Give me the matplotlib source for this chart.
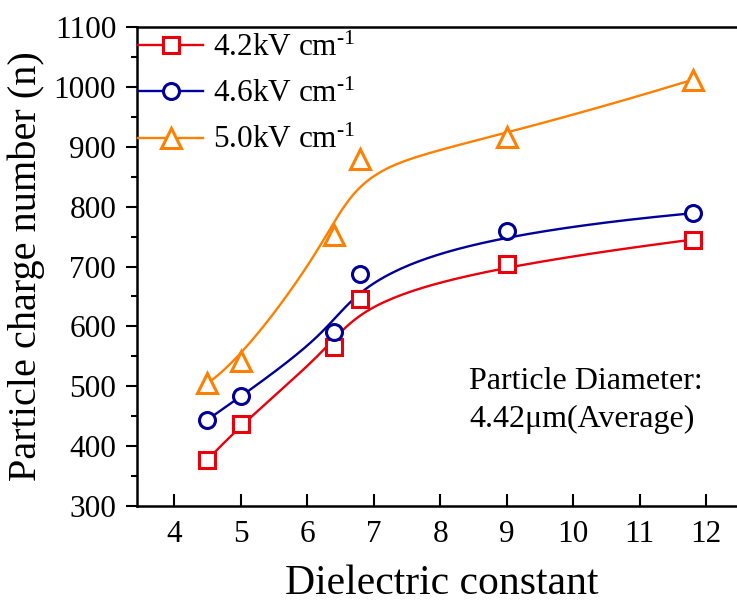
import matplotlib
matplotlib.use("Agg")
import matplotlib.pyplot as plt
import numpy as np
from matplotlib.ticker import MultipleLocator

plt.rcParams['font.family'] = ['Liberation Serif', 'DejaVu Serif']
plt.rcParams['mathtext.fontset'] = 'custom'
plt.rcParams['mathtext.rm'] = 'Liberation Serif'
plt.rcParams['mathtext.default'] = 'regular'

# data
dielectric = [4.5, 5.0, 6.4, 6.8, 9.0, 11.8]
charge_42 = [377, 437, 565, 645, 705, 745]
charge_46 = [444, 483, 590, 688, 760, 789]
charge_50 = [505, 543, 752, 880, 917, 1012]
labels = ['4.2kV cm$^{\\text{-}1}$', '4.6kV cm$^{\\text{-}1}$',
          '5.0kV cm$^{\\text{-}1}$']


def bspline(xs, ys, k=3, n=300):
    # clamped cubic B-spline with the data points as control points
    pts = np.column_stack([xs, ys]).astype(float)
    m = len(pts)
    inner = np.arange(1, m - k)
    knots = np.concatenate([np.zeros(k + 1), inner, np.full(k + 1, m - k)])
    t = np.linspace(0, m - k, n)
    t[-1] -= 1e-9

    def basis(i, p, t):
        if p == 0:
            return ((knots[i] <= t) & (t < knots[i + 1])).astype(float)
        out = np.zeros_like(t)
        d1 = knots[i + p] - knots[i]
        d2 = knots[i + p + 1] - knots[i + 1]
        if d1 > 0:
            out += (t - knots[i]) / d1 * basis(i, p - 1, t)
        if d2 > 0:
            out += (knots[i + p + 1] - t) / d2 * basis(i + 1, p - 1, t)
        return out

    B = np.array([basis(i, k, t) for i in range(m)])
    curve = B.T @ pts
    return curve[:, 0], curve[:, 1]


fig = plt.figure(figsize=(7.37, 6.05), dpi=100)
ax = fig.add_axes([137 / 737, 99 / 605, 609 / 737, 479 / 605])

series = [
    (charge_42, '#E8000B', 's', 11),
    (charge_46, '#000099', 'o', 11.5),
    (charge_50, '#FF8000', '^', 14),
]
for (vals, col, mk, ms), lab in zip(series, labels):
    sx, sy = bspline(dielectric, vals)
    ax.plot(sx, sy, color=col, lw=1.7, zorder=2)
    ax.plot(dielectric, vals, linestyle='none', marker=mk, ms=ms,
            mfc='white', mec=col, mew=2.2, zorder=3)
    ax.plot([], [], color=col, lw=1.7, marker=mk, ms=ms, mfc='white',
            mec=col, mew=2.2, label=lab)

ax.set_xlim(3.44, 12.6)
ax.set_ylim(300, 1100)
ax.xaxis.set_major_locator(MultipleLocator(1))
ax.yaxis.set_major_locator(MultipleLocator(100))
ax.yaxis.set_minor_locator(MultipleLocator(50))

ax.tick_params(axis='x', direction='in', length=9, width=1.5, pad=10,
               labelsize=22.5, top=False)
ax.tick_params(axis='y', which='major', direction='out', length=8, width=1.5,
               labelsize=22.5, pad=7, right=False)
ax.tick_params(axis='y', which='minor', direction='out', length=4, width=1.5)
for s in ax.spines.values():
    s.set_linewidth(1.8)

ax.set_xlabel('Dielectric constant', fontsize=30, labelpad=11)
ax.set_ylabel('Particle charge number (n)', fontsize=29, labelpad=6)

ax.legend(loc='upper left', bbox_to_anchor=(-0.004, 0.993), frameon=False,
          fontsize=22.5, handlelength=2.1, borderaxespad=0.0, borderpad=0.1,
          handletextpad=0.3, labelspacing=0.55)

ax.text(0.545, 0.29, 'Particle Diameter:\n4.42\u03bcm(Average)',
        transform=ax.transAxes, fontsize=23, va='top', ha='left',
        linespacing=1.38)

fig.savefig('out.png', dpi=100)
